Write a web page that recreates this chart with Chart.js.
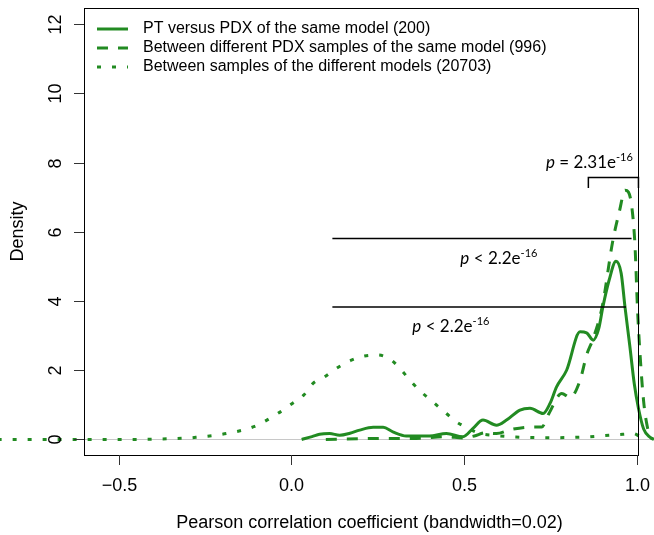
<!DOCTYPE html>
<html lang="en">
<head>
<meta charset="UTF-8">
<title>Correlation density</title>
<script src="https://cdn.jsdelivr.net/npm/chart.js@4/dist/chart.umd.min.js"></script>
<style>
  body { margin: 0; background: #fff; }
</style>
</head>
<body>
<canvas id="chart" width="654" height="535"></canvas>
<script>
// density curves (x = Pearson r, y = density)
const ptPdxX = [0.03, 0.06, 0.082, 0.111, 0.14, 0.17, 0.198, 0.237, 0.266, 0.294, 0.333, 0.4, 0.449, 0.497, 0.526, 0.555, 0.594, 0.623, 0.662, 0.691, 0.729, 0.749, 0.768, 0.797, 0.836, 0.855, 0.874, 0.89, 0.902, 0.92, 0.94, 0.955, 0.966, 0.98, 0.993, 1.005, 1.02, 1.039, 1.05]
const ptPdxY = [0, 0.08, 0.15, 0.17, 0.12, 0.18, 0.27, 0.35, 0.35, 0.22, 0.1, 0.1, 0.17, 0.08, 0.32, 0.56, 0.41, 0.56, 0.85, 0.9, 0.75, 1.04, 1.52, 2.0, 3.11, 3.08, 2.87, 3.2, 3.83, 4.6, 5.15, 4.8, 3.83, 2.7, 1.6, 0.9, 0.3, 0.06, 0]

const pdxPdxX = [0.1, 0.2, 0.285, 0.362, 0.449, 0.497, 0.53, 0.561, 0.594, 0.638, 0.696, 0.725, 0.746, 0.783, 0.807, 0.836, 0.855, 0.874, 0.9, 0.93, 0.95, 0.966, 0.976, 0.986, 0.995, 1.002, 1.01, 1.02, 1.03, 1.04, 1.048]
const pdxPdxY = [0, 0.02, 0.03, 0.03, 0.08, 0.04, 0.1, 0.19, 0.17, 0.29, 0.36, 0.36, 0.75, 1.33, 1.21, 1.71, 2.44, 2.92, 3.83, 5.7, 6.6, 7.2, 7.15, 6.7, 5.6, 3.83, 2.4, 1.1, 0.4, 0.08, 0]

const diffModelX = [-0.85, -0.6, -0.45, -0.35, -0.276, -0.188, -0.106, -0.039, 0.003, 0.036, 0.063, 0.097, 0.13, 0.174, 0.212, 0.251, 0.29, 0.319, 0.348, 0.381, 0.415, 0.449, 0.478, 0.512, 0.546, 0.584, 0.65, 0.75, 0.85, 0.92, 0.96, 0.99, 1.01, 1.03]
const diffModelY = [0, 0, 0, 0.02, 0.06, 0.17, 0.38, 0.75, 1.04, 1.28, 1.62, 1.81, 2.05, 2.29, 2.41, 2.44, 2.29, 2.0, 1.66, 1.33, 1.04, 0.75, 0.51, 0.32, 0.17, 0.12, 0.07, 0.05, 0.07, 0.12, 0.15, 0.17, 0.08, 0]

const seriesLabels = [
  'PT versus PDX of the same model (200)',
  'Between different PDX samples of the same model (996)',
  'Between samples of the different models (20703)'
]
const xTicks = [-0.5, 0, 0.5, 1.0]
const yTicks = [0, 2, 4, 6, 8, 10, 12]
const xTitle = 'Pearson correlation coefficient (bandwidth=0.02)'
const yTitle = 'Density'

const green = '#228B22'
const sans = '"Liberation Sans", Arial, sans-serif'
const dashes = [[], [11, 10], [4, 11]]
const boxRight = 1.003   // the drawn box stops here, the curves run on past it

const toPoints = (xs, ys) => xs.map((x, i) => ({ x: x, y: ys[i] }))

function drawPText(ctx, cx, cy, op, num) {
  const main = '17px Lato, sans-serif'
  const ital = 'italic 17px Lato, sans-serif'
  const sup = '11px Lato, sans-serif'
  const body = ' ' + op + ' ' + num + 'e'
  ctx.font = ital
  const wp = ctx.measureText('p').width
  ctx.font = main
  const wb = ctx.measureText(body).width
  ctx.font = sup
  const ws = ctx.measureText('-16').width
  let x = cx - (wp + wb + ws) / 2
  ctx.textAlign = 'left'
  ctx.textBaseline = 'middle'
  ctx.fillStyle = '#000'
  ctx.font = ital; ctx.fillText('p', x, cy); x += wp
  ctx.font = main; ctx.fillText(body, x, cy); x += wb
  ctx.font = sup; ctx.fillText('-16', x, cy - 5)
}

const rStyle = {
  id: 'rStyle',
  beforeDatasetsDraw(chart) {
    const { ctx, chartArea: a, scales: { y } } = chart
    const y0 = Math.round(y.getPixelForValue(0)) + 0.5
    ctx.save()
    ctx.strokeStyle = '#c8c8c8'
    ctx.lineWidth = 1
    ctx.beginPath(); ctx.moveTo(a.left, y0); ctx.lineTo(chart.width, y0); ctx.stroke()
    ctx.restore()
  },
  afterDatasetsDraw(chart) {
    const { ctx, chartArea: a, scales: { x, y } } = chart
    ctx.save()

    // box
    const bxL = Math.round(a.left) + 0.5
    const bxR = Math.round(x.getPixelForValue(boxRight)) + 0.5
    ctx.strokeStyle = '#000'
    ctx.lineWidth = 1
    ctx.strokeRect(bxL, Math.round(a.top) + 0.5, bxR - bxL, Math.round(a.bottom - a.top))

    // axis ticks + labels
    ctx.strokeStyle = '#333'
    ctx.fillStyle = '#000'
    ctx.font = '18px ' + sans
    ctx.textAlign = 'center'
    ctx.textBaseline = 'middle'
    xTicks.forEach(v => {
      const px = Math.round(x.getPixelForValue(v)) + 0.5
      ctx.beginPath(); ctx.moveTo(px, a.bottom); ctx.lineTo(px, a.bottom + 10); ctx.stroke()
      ctx.fillText(v < 0 ? '\u2212' + Math.abs(v).toFixed(1) : v.toFixed(1), px, 486)
    })
    yTicks.forEach(v => {
      const py = Math.round(y.getPixelForValue(v)) + 0.5
      ctx.beginPath(); ctx.moveTo(a.left, py); ctx.lineTo(a.left - 10, py); ctx.stroke()
      ctx.save()
      ctx.translate(56, py)
      ctx.rotate(-Math.PI / 2)
      ctx.fillText(String(v), 0, 0)
      ctx.restore()
    })

    // axis titles
    ctx.fillText(xTitle, (bxL + bxR) / 2 + 8, 523)
    ctx.save()
    ctx.translate(18, (a.top + a.bottom) / 2)
    ctx.rotate(-Math.PI / 2)
    ctx.fillText(yTitle, 0, 0)
    ctx.restore()

    // legend
    ctx.font = '16px ' + sans
    ctx.textAlign = 'left'
    chart.data.datasets.forEach((ds, i) => {
      const ly = 29 + i * 19
      ctx.strokeStyle = ds.borderColor
      ctx.lineWidth = 3
      ctx.setLineDash(ds.borderDash)
      ctx.beginPath(); ctx.moveTo(97, ly); ctx.lineTo(128, ly); ctx.stroke()
      ctx.setLineDash([])
      ctx.fillStyle = '#000'
      ctx.fillText(ds.label, 143, ly)
    })

    // significance markers
    ctx.strokeStyle = '#000'
    ctx.lineWidth = 1.5
    const hline = (x1, x2, v) => {
      const py = y.getPixelForValue(v)
      ctx.beginPath(); ctx.moveTo(x.getPixelForValue(x1), py); ctx.lineTo(x.getPixelForValue(x2), py); ctx.stroke()
    }
    hline(0.119, 0.985, 5.81)
    hline(0.119, 0.969, 3.83)
    const bl = x.getPixelForValue(0.86), br = x.getPixelForValue(1.005)
    const bt = y.getPixelForValue(7.57), bb = y.getPixelForValue(7.27)
    ctx.beginPath()
    ctx.moveTo(bl, bb); ctx.lineTo(bl, bt); ctx.lineTo(br, bt); ctx.lineTo(br, bb)
    ctx.stroke()

    drawPText(ctx, x.getPixelForValue(0.863), y.getPixelForValue(8.0), '=', '2.31')
    drawPText(ctx, x.getPixelForValue(0.601), y.getPixelForValue(5.24), '<', '2.2')
    drawPText(ctx, x.getPixelForValue(0.462), y.getPixelForValue(3.27), '<', '2.2')

    ctx.restore()
  }
}

const series = [
  toPoints(ptPdxX, ptPdxY),
  toPoints(pdxPdxX, pdxPdxY),
  toPoints(diffModelX, diffModelY)
]

new Chart(document.getElementById('chart'), {
  type: 'line',
  data: {
    datasets: series.map((pts, i) => ({
      label: seriesLabels[i],
      data: pts,
      borderColor: green,
      borderWidth: 3,
      borderDash: dashes[i],
      borderCapStyle: 'butt',
      pointRadius: 0,
      fill: false,
      clip: false,
      cubicInterpolationMode: 'monotone'
    }))
  },
  options: {
    responsive: false,
    animation: false,
    layout: { padding: { left: 84, top: 8, right: 0, bottom: 80 } },
    plugins: { legend: { display: false }, tooltip: { enabled: false } },
    scales: {
      x: {
        type: 'linear',
        min: -0.6,
        max: 1.05,
        afterBuildTicks: s => { s.ticks = xTicks.map(v => ({ value: v })) },
        ticks: { display: false },
        grid: { display: false, drawTicks: false },
        border: { display: false }
      },
      y: {
        type: 'linear',
        min: -0.45,
        max: 12.47,
        afterBuildTicks: s => { s.ticks = yTicks.map(v => ({ value: v })) },
        ticks: { display: false },
        grid: { display: false, drawTicks: false },
        border: { display: false }
      }
    }
  },
  plugins: [rStyle]
})
</script>
</body>
</html>
